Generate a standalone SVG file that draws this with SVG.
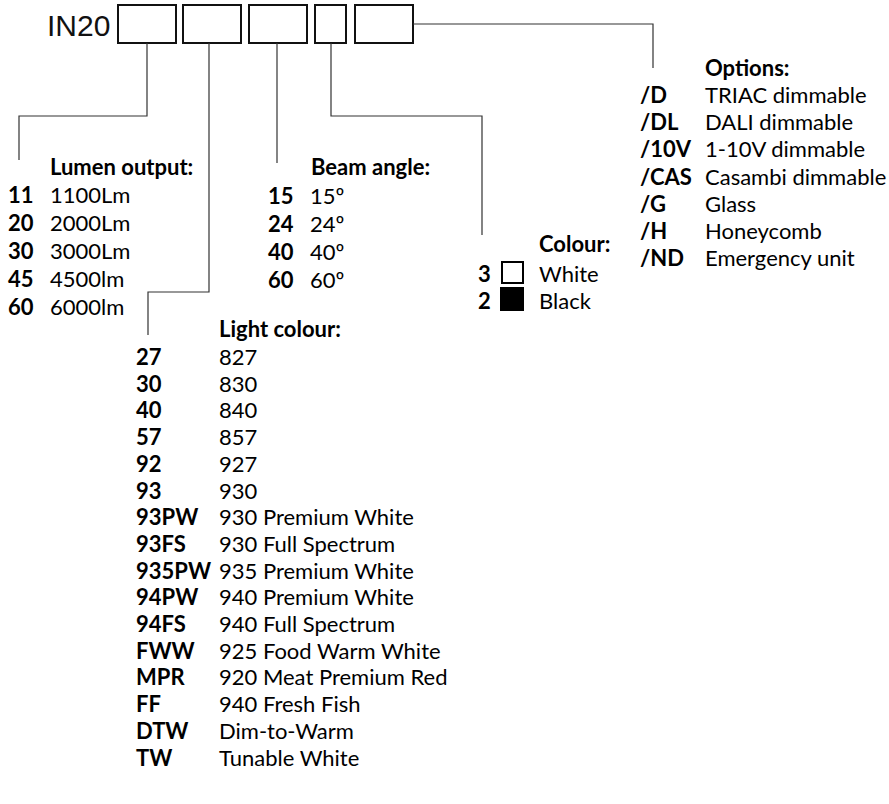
<svg xmlns="http://www.w3.org/2000/svg" width="889" height="804" viewBox="0 0 889 804">
<style>
.t{font-family:Lato,"Open Sans",sans-serif;font-size:22px;fill:#000}
.b{font-weight:bold}
.box{fill:#fff;stroke:#111;stroke-width:2}
.ln{fill:none;stroke:#333;stroke-width:1.2}
</style>
<rect width="889" height="804" fill="#fff"/>
<g id="header">
<text x="47" y="36" font-family="Liberation Sans, Arial, sans-serif" font-size="30" fill="#111">IN20</text>
<rect class="box" x="118" y="5" width="58" height="38"/>
<rect class="box" x="183" y="5" width="58" height="38"/>
<rect class="box" x="249" y="5" width="58" height="38"/>
<rect class="box" x="315" y="5" width="31" height="38"/>
<rect class="box" x="355" y="5" width="58" height="38"/>
</g>
<g id="connectors">
<path class="ln" d="M147,43 V116 H19 V160"/>
<path class="ln" d="M209,43 V292 H148 V335"/>
<path class="ln" d="M277,43 V163"/>
<path class="ln" d="M331,43 V116 H482 V235"/>
<path class="ln" d="M413,24 H653 V68"/>
</g>
<g id="lumen" class="t">
<text class="b" x="50" y="175">Lumen output:</text>
<text class="b" x="8" y="203">11</text><text x="50" y="203">1100Lm</text>
<text class="b" x="8" y="231">20</text><text x="50" y="231">2000Lm</text>
<text class="b" x="8" y="259">30</text><text x="50" y="259">3000Lm</text>
<text class="b" x="8" y="287">45</text><text x="50" y="287">4500lm</text>
<text class="b" x="8" y="315">60</text><text x="50" y="315">6000lm</text>
</g>
<g id="beam" class="t">
<text class="b" x="311" y="175">Beam angle:</text>
<text class="b" x="268" y="204">15</text><text x="310" y="204">15º</text>
<text class="b" x="268" y="232">24</text><text x="310" y="232">24º</text>
<text class="b" x="268" y="260">40</text><text x="310" y="260">40º</text>
<text class="b" x="268" y="288">60</text><text x="310" y="288">60º</text>
</g>
<g id="colour" class="t">
<text class="b" x="539" y="252">Colour:</text>
<text class="b" x="478" y="282">3</text>
<rect x="502" y="262" width="21" height="21" fill="#fff" stroke="#000" stroke-width="2"/>
<text x="539" y="282">White</text>
<text class="b" x="478" y="309">2</text>
<rect x="500" y="287" width="24" height="24" fill="#000"/>
<text x="539" y="309">Black</text>
</g>
<g id="options" class="t">
<text class="b" x="705" y="76">Options:</text>
<text class="b" x="640" y="103">/D</text><text x="705" y="103">TRIAC dimmable</text>
<text class="b" x="640" y="130.2">/DL</text><text x="705" y="130.2">DALI dimmable</text>
<text class="b" x="640" y="157.4">/10V</text><text x="705" y="157.4">1-10V dimmable</text>
<text class="b" x="640" y="184.6">/CAS</text><text x="705" y="184.6">Casambi dimmable</text>
<text class="b" x="640" y="211.8">/G</text><text x="705" y="211.8">Glass</text>
<text class="b" x="640" y="239">/H</text><text x="705" y="239">Honeycomb</text>
<text class="b" x="640" y="266">/ND</text><text x="705" y="266">Emergency unit</text>
</g>
<g id="lightcolour" class="t">
<text class="b" x="219" y="337">Light colour:</text>
<text class="b" x="136" y="365">27</text><text x="219" y="365">827</text>
<text class="b" x="136" y="391.7">30</text><text x="219" y="391.7">830</text>
<text class="b" x="136" y="418.4">40</text><text x="219" y="418.4">840</text>
<text class="b" x="136" y="445.1">57</text><text x="219" y="445.1">857</text>
<text class="b" x="136" y="471.8">92</text><text x="219" y="471.8">927</text>
<text class="b" x="136" y="498.5">93</text><text x="219" y="498.5">930</text>
<text class="b" x="136" y="525.2">93PW</text><text x="219" y="525.2">930 Premium White</text>
<text class="b" x="136" y="551.9">93FS</text><text x="219" y="551.9">930 Full Spectrum</text>
<text class="b" x="136" y="578.6">935PW</text><text x="219" y="578.6">935 Premium White</text>
<text class="b" x="136" y="605.3">94PW</text><text x="219" y="605.3">940 Premium White</text>
<text class="b" x="136" y="632">94FS</text><text x="219" y="632">940 Full Spectrum</text>
<text class="b" x="136" y="658.7">FWW</text><text x="219" y="658.7">925 Food Warm White</text>
<text class="b" x="136" y="685.4">MPR</text><text x="219" y="685.4">920 Meat Premium Red</text>
<text class="b" x="136" y="712.1">FF</text><text x="219" y="712.1">940 Fresh Fish</text>
<text class="b" x="136" y="738.8">DTW</text><text x="219" y="738.8">Dim-to-Warm</text>
<text class="b" x="136" y="765.5">TW</text><text x="219" y="765.5">Tunable White</text>
</g>
</svg>
